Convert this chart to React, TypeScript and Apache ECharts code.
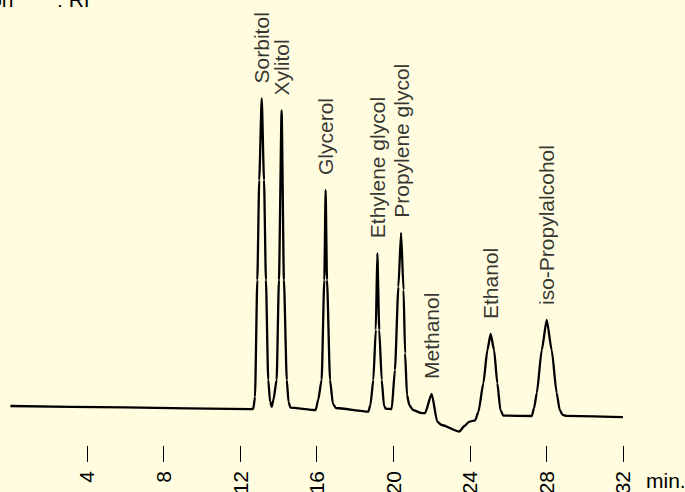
import React, { useEffect, useRef } from "react";
import * as echarts from "echarts";

// Chromatogram trace: [retention time (min), detector signal (a.u.)]
const trace: [number, number][] = [
  [0, 10.0], [6, 9.65], [12.55, 9.2], [12.69, 9.3],
  [12.78, 12.3], [12.9, 41.5], [13.0, 66.5], [13.13, 86.9], [13.25, 66.5], [13.35, 41.5], [13.47, 16.5], [13.57, 11.0],
  [13.65, 9.8], [13.74, 11.5], [13.91, 16.5], [14.03, 41.5], [14.17, 83.9], [14.29, 41.5], [14.44, 16.5], [14.53, 11.0],
  [14.63, 9.6], [15.95, 9.0], [16.08, 11.5], [16.26, 16.5], [16.4, 41.5], [16.47, 64.0], [16.54, 41.5], [16.7, 16.5],
  [16.85, 10.5], [17.01, 9.5], [18.7, 8.6], [18.81, 10.25], [18.96, 16.5], [19.09, 29.0], [19.17, 48.2], [19.27, 29.0],
  [19.4, 16.5], [19.52, 10.0], [19.62, 9.3], [19.92, 9.25], [20.09, 19.0], [20.27, 39.8], [20.41, 53.3], [20.54, 39.0],
  [20.62, 23.2], [20.72, 12.75], [20.84, 10.25], [21.03, 9.0], [21.49, 8.2], [21.66, 8.2], [22.01, 13.0], [22.3, 6.1],
  [22.53, 5.25], [23.45, 3.6], [23.72, 5.0], [23.98, 6.1], [24.28, 6.4], [24.45, 8.5], [24.71, 15.7], [24.92, 24.0],
  [25.09, 28.0], [25.27, 24.0], [25.44, 15.7], [25.6, 9.0], [25.75, 7.6], [27.24, 7.5], [27.36, 9.5], [27.5, 13.2],
  [27.76, 24.0], [28.02, 31.5], [28.28, 24.0], [28.54, 13.2], [28.7, 9.0], [28.85, 7.8], [29.05, 7.55], [32.0, 7.2],
];

// Identified compounds and their retention times (apex of each peak)
const peakNames = [
  "Sorbitol",
  "Xylitol",
  "Glycerol",
  "Ethylene glycol",
  "Propylene glycol",
  "Methanol",
  "Ethanol",
  "iso-Propylalcohol",
];
const peakTimes = [13.13, 14.17, 16.47, 19.17, 20.41, 22.01, 25.09, 28.02];

const tickValues = [4, 8, 12, 16, 20, 24, 28, 32];

const FONT = "'Liberation Sans', Arial, Helvetica, sans-serif";
const BG = "#fffce0";

export default function App() {
  const ref = useRef<HTMLDivElement>(null);

  useEffect(() => {
    if (!ref.current) return;
    const chart = echarts.init(ref.current, undefined, { renderer: "svg" });

    // apex points of the trace, one per named compound
    const apexData = peakTimes.map((t, k) => {
      const point = trace.find((p) => p[0] === t) as [number, number];
      return { name: peakNames[k], value: point };
    });

    chart.setOption({
      animation: false,
      backgroundColor: BG,
      grid: {
        left: 10.4,
        right: 62.1,
        top: 46,
        bottom: 46,
        containLabel: false,
        outerBoundsMode: "none",
      },
      xAxis: {
        type: "value",
        min: 0,
        max: 32,
        interval: 4,
        axisLine: { show: false },
        splitLine: { show: false },
        axisTick: {
          show: true,
          length: 16,
          inside: false,
          customValues: tickValues,
          lineStyle: { color: "#000", width: 1 },
        },
        axisLabel: {
          show: true,
          rotate: 90,
          margin: 25,
          customValues: tickValues,
          fontSize: 21,
          fontFamily: FONT,
          color: "#000",
        },
      },
      yAxis: {
        type: "value",
        min: 0,
        max: 100,
        show: false,
      },
      series: [
        {
          type: "line",
          data: trace,
          showSymbol: false,
          symbol: "none",
          smooth: 0.2,
          smoothMonotone: "x",
          lineStyle: { color: "#000", width: 2.3 },
        },
        {
          type: "scatter",
          data: apexData,
          symbolSize: 0,
          silent: true,
          labelLayout: { hideOverlap: false },
          label: {
            show: true,
            formatter: "{b}",
            position: "top",
            distance: 15,
            rotate: 90,
            align: "left",
            verticalAlign: "middle",
            fontSize: 21,
            fontFamily: FONT,
            color: "#000",
          },
        },
      ],
      graphic: [
        {
          type: "text",
          x: 13.5,
          y: -1,
          style: {
            text: "Detection",
            align: "right",
            verticalAlign: "middle",
            fontSize: 21,
            fontFamily: FONT,
            fill: "#000",
          },
        },
        {
          type: "text",
          x: 57,
          y: -1,
          style: {
            text: ": RI",
            align: "left",
            verticalAlign: "middle",
            fontSize: 21,
            fontFamily: FONT,
            fill: "#000",
          },
        },
        {
          type: "text",
          x: 646,
          y: 480.5,
          style: {
            text: "min.",
            align: "left",
            verticalAlign: "middle",
            fontSize: 21,
            fontFamily: FONT,
            fill: "#000",
          },
        },
      ],
    });

    return () => chart.dispose();
  }, []);

  return (
    <div
      ref={ref}
      style={{ position: "fixed", left: 0, top: 0, width: 685, height: 492, background: BG }}
    />
  );
}
